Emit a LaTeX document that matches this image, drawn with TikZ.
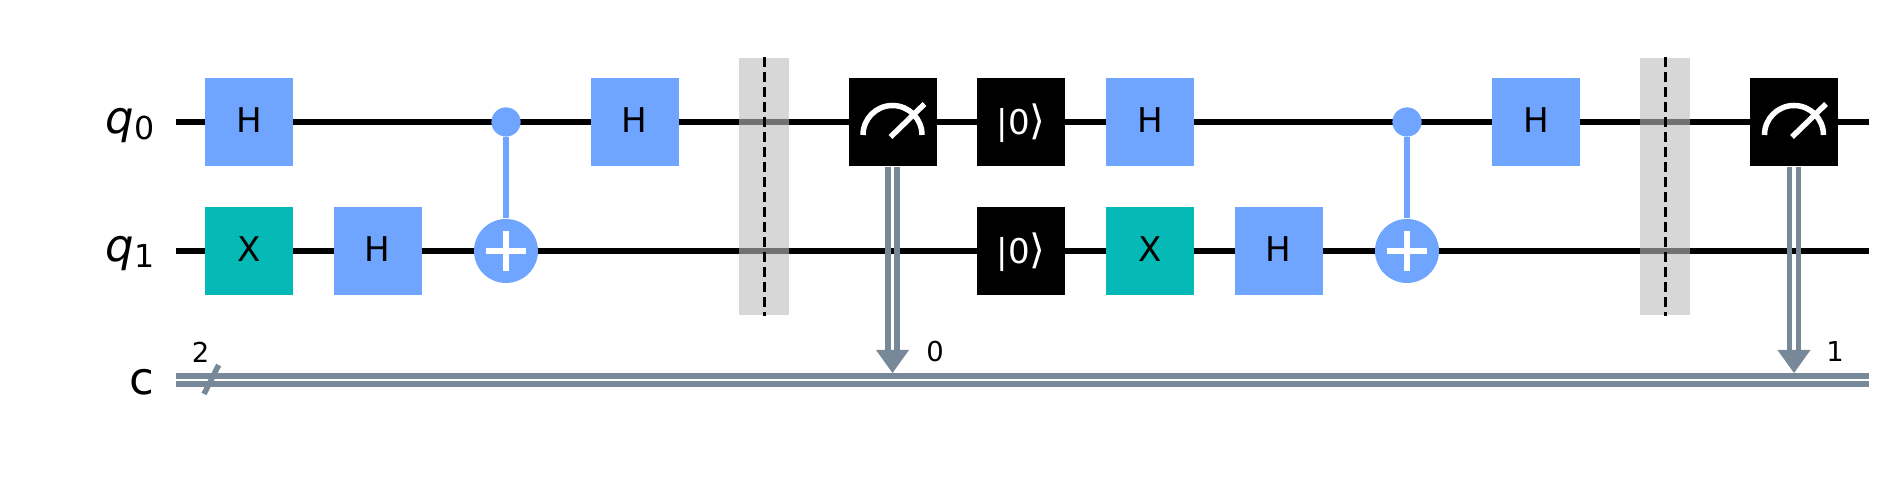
\documentclass[tikz,border=0pt]{standalone}
\usepackage{fontspec}
\setmainfont{DejaVu Sans}
\definecolor{hblue}{HTML}{6FA4FF}
\definecolor{xteal}{HTML}{05BAB6}
\definecolor{clgray}{HTML}{778899}
\definecolor{barriergray}{HTML}{BDBDBD}
\newcommand{\gatefont}{\fontsize{9.7}{11}\selectfont}
\newcommand{\smallfont}{\fontsize{7.8}{9}\selectfont}
\newcommand{\wirefont}{\fontsize{12.8}{14}\selectfont}
\newcommand{\subfont}{\fontsize{9}{10}\selectfont}
\newcommand{\ketclose}{{\fontsize{11.5}{13}\selectfont ⟩}}
\tikzset{
    qwire/.style={draw=black, line width=0.056cm},
    cwire/.style={draw=clgray, line width=0.055cm},
    hgate/.style={shape=rectangle, fill=hblue, inner sep=0, minimum size=0.88cm, font=\gatefont, text depth=0.04cm},
    xgate/.style={hgate, fill=xteal},
    meter/.style={hgate, fill=black, text=white, text height=0.26cm, text depth=0cm},
    ctrldot/.style={shape=circle, fill=hblue, inner sep=0, minimum size=0.292cm},
    target/.style={shape=circle, fill=hblue, inner sep=0, minimum size=0.64cm},
    pluswire/.style={draw=white, line width=0.055cm},
    ctrlwire/.style={draw=hblue, line width=0.055cm},
    barrierbox/.style={shape=rectangle, fill=barriergray, fill opacity=0.6, inner sep=0, minimum width=0.5cm, minimum height=2.57cm},
    barrierline/.style={draw=black, line width=0.03cm, dash pattern=on 0.1cm off 0.05cm},
    wirelabel/.style={anchor=base east, inner sep=0},
    smalllabel/.style={anchor=center, inner sep=0, font=\smallfont},
}
\begin{document}
\begin{tikzpicture}
        \useasboundingbox (0, 0) rectangle (18.98, 4.77);
        % Paths, nodes and wires:
        \coordinate (Q0start) at (1.76, 3.55);
        \coordinate (Q0end) at (18.69, 3.55);
        \coordinate (Q1start) at (1.76, 2.26);
        \coordinate (Q1end) at (18.69, 2.26);
        \coordinate (C0start) at (1.76, 1.01);
        \coordinate (C0end) at (18.69, 1.01);
        \coordinate (C1start) at (1.76, 0.93);
        \coordinate (C1end) at (18.69, 0.93);
        \draw[qwire] (Q0start) -- (Q0end);
        \draw[qwire] (Q1start) -- (Q1end);
        \draw[cwire] (C0start) -- (C0end);
        \draw[cwire] (C1start) -- (C1end);
        \coordinate (SlashA) at (2.04, 0.83);
        \coordinate (SlashB) at (2.187, 1.12);
        \draw[cwire] (SlashA) -- (SlashB);
        % Labels:
        \node[wirelabel, font=\wirefont] (LabelQ0) at (1.55, 3.43){\textit{q}\raisebox{-0.06cm}{\subfont 0}};
        \node[wirelabel, font=\wirefont] (LabelQ1) at (1.55, 2.15){\textit{q}\raisebox{-0.06cm}{\subfont 1}};
        \node[wirelabel, font=\wirefont] (LabelC) at (1.55, 0.82){c};
        \node[smalllabel] (LabelTwo) at (2.007, 1.25){2};
        \node[smalllabel] (LabelZero) at (9.35, 1.25){0};
        \node[smalllabel] (LabelOne) at (18.35, 1.25){1};
        % Measure wires:
        \node[meter] (Meas1) at (8.925, 3.55){};
        \node[meter] (Meas2) at (17.94, 3.55){};
        \coordinate (Tip1) at (8.925, 1.04);
        \coordinate (Tip2) at (17.94, 1.04);
        \coordinate (Base1) at (8.925, 1.26);
        \coordinate (Base2) at (17.94, 1.26);
        \draw[cwire] ([xshift=-0.045cm]Meas1.south) -- ([xshift=-0.045cm]Base1);
        \draw[cwire] ([xshift=0.045cm]Meas1.south) -- ([xshift=0.045cm]Base1);
        \draw[cwire] ([xshift=-0.045cm]Meas2.south) -- ([xshift=-0.045cm]Base2);
        \draw[cwire] ([xshift=0.045cm]Meas2.south) -- ([xshift=0.045cm]Base2);
        \fill[clgray] (Tip1) -- ++(-0.165, 0.23) -- ++(0.33, 0) -- cycle;
        \fill[clgray] (Tip2) -- ++(-0.165, 0.23) -- ++(0.33, 0) -- cycle;
        % Gates, first round:
        \node[hgate] (H1) at (2.49, 3.55){H};
        \node[xgate] (X1) at (2.49, 2.26){X};
        \node[hgate] (H2) at (3.775, 2.26){H};
        \node[target] (Targ1) at (5.06, 2.26){};
        \node[ctrldot] (Ctrl1) at (5.06, 3.55){};
        \draw[ctrlwire] (Ctrl1) -- (Targ1);
        \draw[pluswire] ([xshift=-0.2cm]Targ1.center) -- ([xshift=0.2cm]Targ1.center);
        \draw[pluswire] ([yshift=-0.2cm]Targ1.center) -- ([yshift=0.2cm]Targ1.center);
        \node[hgate] (H3) at (6.345, 3.55){H};
        \node[barrierbox] (Barrier1) at (7.64, 2.905){};
        \draw[barrierline] (Barrier1.north) -- (Barrier1.south);
        % Gates, second round:
        \node[meter] (Reset1) at (10.21, 3.55){|0\ketclose};
        \node[meter] (Reset2) at (10.21, 2.26){|0\ketclose};
        \node[hgate] (H4) at (11.5, 3.55){H};
        \node[xgate] (X2) at (11.5, 2.26){X};
        \node[hgate] (H5) at (12.785, 2.26){H};
        \node[target] (Targ2) at (14.07, 2.26){};
        \node[ctrldot] (Ctrl2) at (14.07, 3.55){};
        \draw[ctrlwire] (Ctrl2) -- (Targ2);
        \draw[pluswire] ([xshift=-0.2cm]Targ2.center) -- ([xshift=0.2cm]Targ2.center);
        \draw[pluswire] ([yshift=-0.2cm]Targ2.center) -- ([yshift=0.2cm]Targ2.center);
        \node[hgate] (H6) at (15.36, 3.55){H};
        \node[barrierbox] (Barrier2) at (16.65, 2.905){};
        \draw[barrierline] (Barrier2.north) -- (Barrier2.south);
        % Meter dials:
        \draw[pluswire] ([shift={(-0.295, -0.13)}]Meas1.center) arc[start angle=180, end angle=0, radius=0.295];
        \draw[pluswire] ([shift={(-0.02, -0.15)}]Meas1.center) -- ([shift={(0.32, 0.18)}]Meas1.center);
        \draw[pluswire] ([shift={(-0.295, -0.13)}]Meas2.center) arc[start angle=180, end angle=0, radius=0.295];
        \draw[pluswire] ([shift={(-0.02, -0.15)}]Meas2.center) -- ([shift={(0.32, 0.18)}]Meas2.center);
    \end{tikzpicture}
\end{document}
